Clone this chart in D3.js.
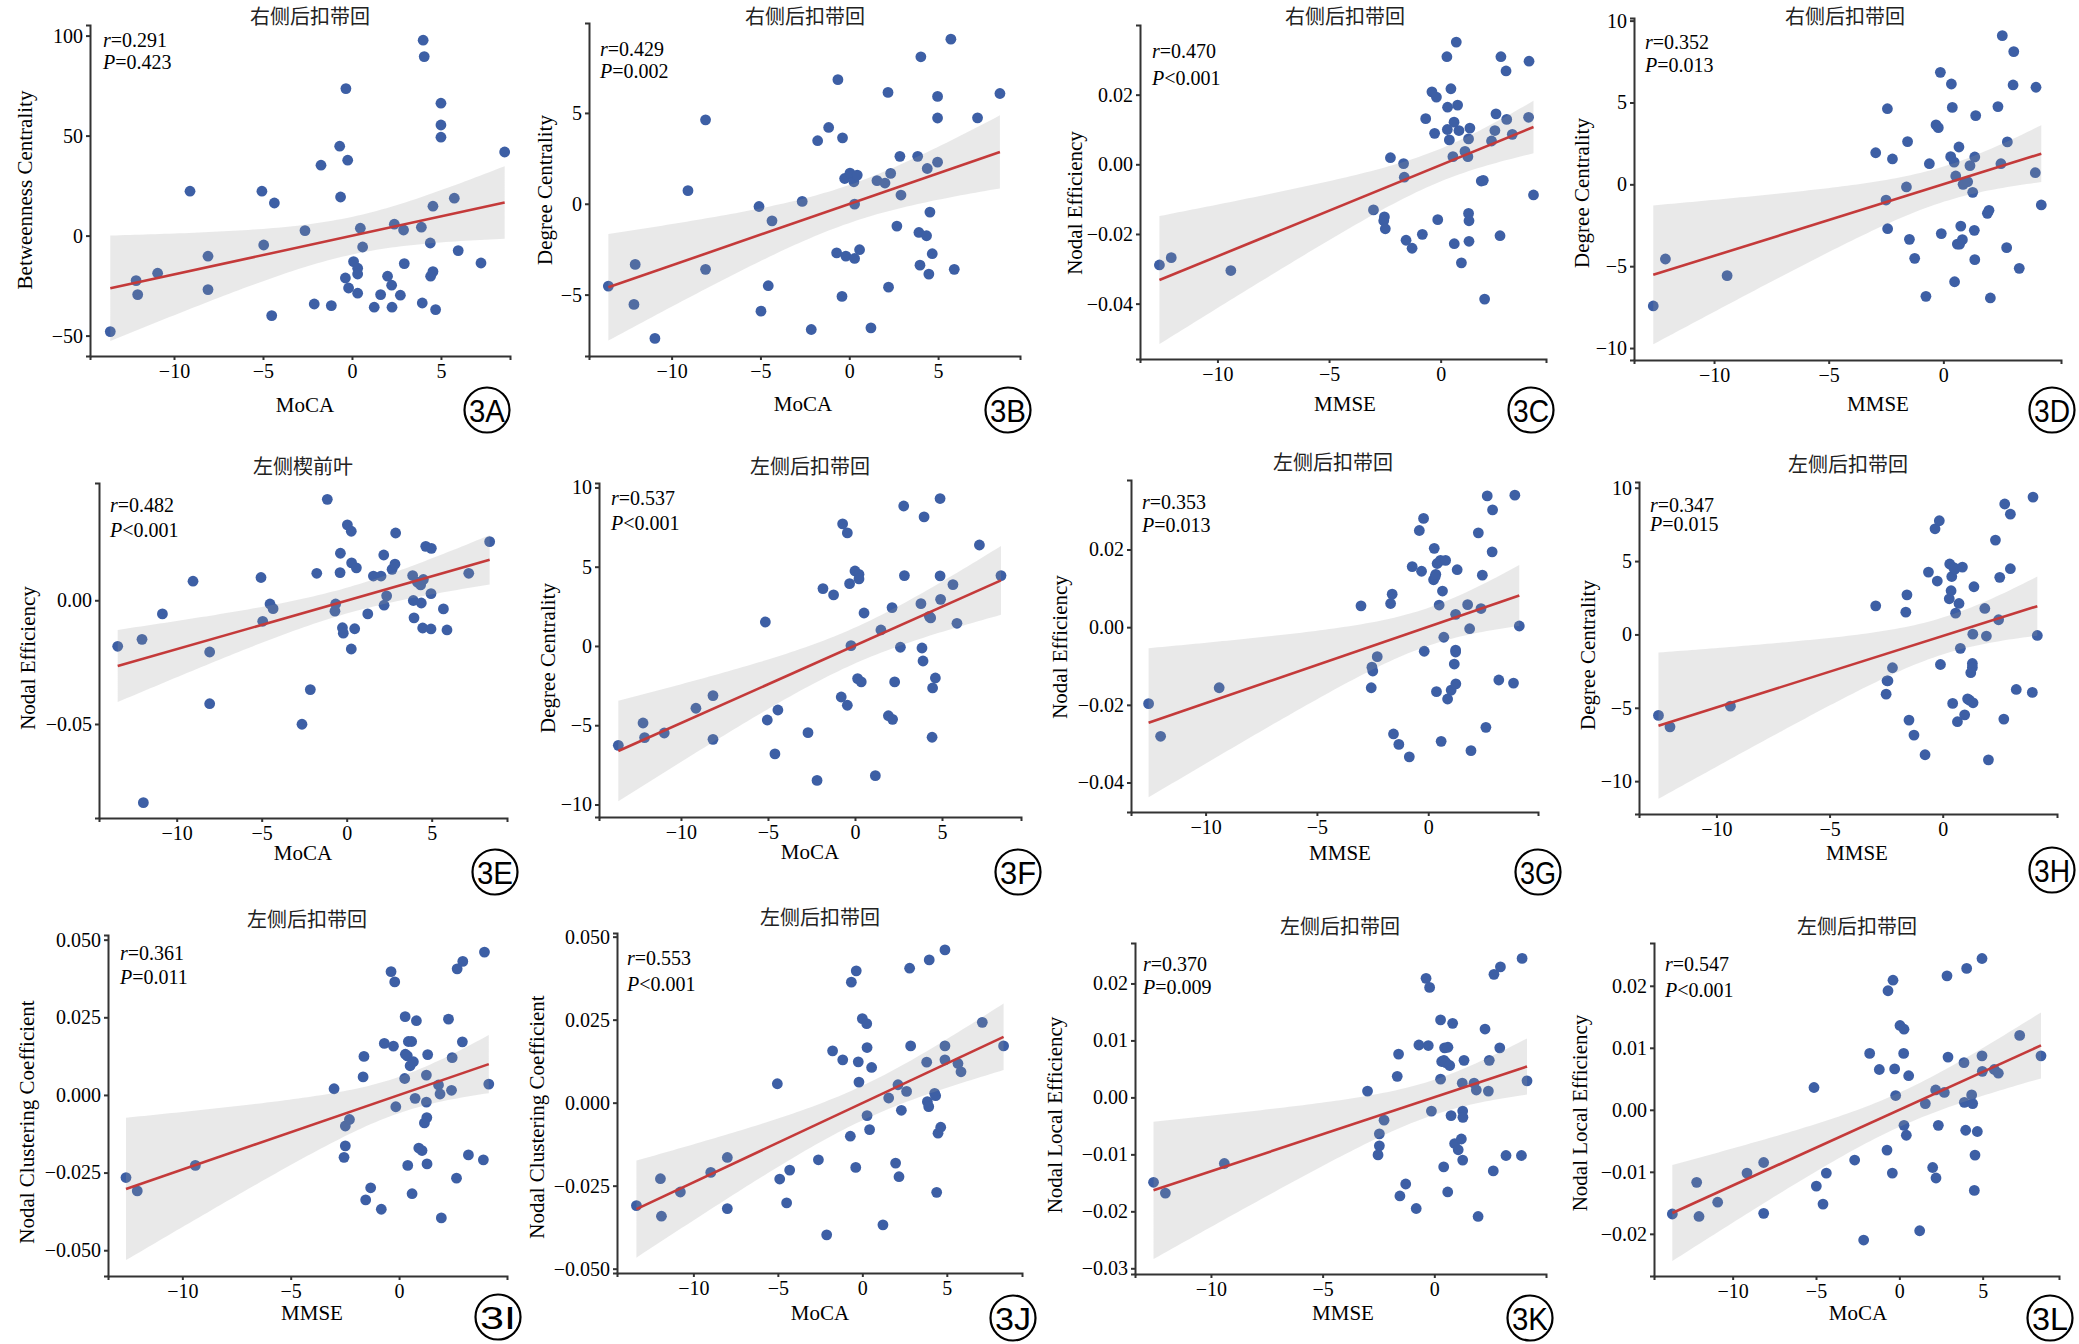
<!DOCTYPE html>
<html>
<head>
<meta charset="utf-8">
<script src="https://cdn.jsdelivr.net/npm/d3@7"></script>
<style>
  body { margin: 0; background: #fff; }
  .axis path, .axis line { stroke: #333; stroke-width: 2; }
  .axis text { font-family: "Liberation Serif", serif; font-size: 20px; fill: #000; }
</style>
</head>
<body>
<svg width="2079" height="1344"></svg>
<script>
// ---- labels ----
var ids = ["3A", "3B", "3C", "3D", "3E", "3F", "3G", "3H", "3I", "3J", "3K", "3L"];
var titles = ["右侧后扣带回", "右侧后扣带回", "右侧后扣带回", "右侧后扣带回",
              "左侧楔前叶", "左侧后扣带回", "左侧后扣带回", "左侧后扣带回",
              "左侧后扣带回", "左侧后扣带回", "左侧后扣带回", "左侧后扣带回"];
var xLabels = ["MoCA", "MoCA", "MMSE", "MMSE", "MoCA", "MoCA", "MMSE", "MMSE",
               "MMSE", "MoCA", "MMSE", "MoCA"];
var yLabels = ["Betweenness Centrality", "Degree Centrality", "Nodal Efficiency", "Degree Centrality",
               "Nodal Efficiency", "Degree Centrality", "Nodal Efficiency", "Degree Centrality",
               "Nodal Clustering Coefficient", "Nodal Clustering Coefficient",
               "Nodal Local Efficiency", "Nodal Local Efficiency"];
var rValues = ["=0.291", "=0.429", "=0.470", "=0.352", "=0.482", "=0.537",
               "=0.353", "=0.347", "=0.361", "=0.553", "=0.370", "=0.547"];
var pValues = ["=0.423", "=0.002", "<0.001", "=0.013", "<0.001", "<0.001",
               "=0.013", "=0.015", "=0.011", "<0.001", "=0.009", "<0.001"];

// ---- ticks ----
var xTicks = [[-10, -5, 0, 5], [-10, -5, 0, 5], [-10, -5, 0], [-10, -5, 0],
              [-10, -5, 0, 5], [-10, -5, 0, 5], [-10, -5, 0], [-10, -5, 0],
              [-10, -5, 0], [-10, -5, 0, 5], [-10, -5, 0], [-10, -5, 0, 5]];
var yTicks = [[-50, 0, 50, 100], [-5, 0, 5], [-0.04, -0.02, 0, 0.02], [-10, -5, 0, 5, 10],
              [-0.05, 0], [-10, -5, 0, 5, 10], [-0.04, -0.02, 0, 0.02], [-10, -5, 0, 5, 10],
              [-0.05, -0.025, 0, 0.025, 0.05], [-0.05, -0.025, 0, 0.025, 0.05],
              [-0.03, -0.02, -0.01, 0, 0.01, 0.02], [-0.02, -0.01, 0, 0.01, 0.02]];
var yFormats = ["d", "d", ".2f", "d", ".2f", "d", ".2f", "d", ".3f", ".3f", ".2f", ".2f"];

// ---- points (x, y) ----
var ptsA = [[-13.58,-48],[-12.13,-22.5],[-12.04,-29.5],[-10.92,-18.8],[-9.1,22.2],[-8.09,-10.3],[-8.09,-27],[-5.06,22.2],[-4.96,-4.7],[-4.36,16.3],[-4.51,-40],[-2.64,2.5],[-2.12,-34.2],[-1.74,35.2],[-1.16,-35],[-0.69,44.7],[-0.64,19.3],[-0.34,73.5],[-0.24,37.7],[-0.37,-21.2],[-0.19,-26.2],[0.09,-13],[0.32,-16.3],[0.32,-19.2],[0.32,-28.8],[0.47,3.7],[0.6,-5.7],[1.25,-35.8],[1.61,-29.5],[2.0,-20.3],[2.23,-24.8],[2.25,-35.8],[2.38,5.7],[2.72,-29.8],[2.9,2.8],[2.94,-14],[3.9,4.2],[3.95,-33.7],[4.0,97.7],[4.06,89.5],[4.4,-3.7],[4.42,-20.3],[4.55,-18],[4.55,14.7],[4.7,-37],[5.0,66.2],[5.0,55.3],[5.0,49.2],[5.75,18.7],[5.97,-7.5],[7.25,-13.7],[8.58,41.8]];
var ptsB = [[-13.56,-4.53],[-12.05,-3.34],[-12.12,-5.54],[-10.94,-7.41],[-9.08,0.72],[-8.09,4.62],[-8.09,-3.61],[-5.08,-0.15],[-4.97,-5.91],[-4.56,-4.51],[-4.35,-0.94],[-2.65,0.13],[-2.14,-6.92],[-1.78,3.47],[-1.16,4.2],[-0.71,-2.7],[-0.64,6.83],[-0.41,-5.1],[-0.38,3.63],[-0.26,1.39],[-0.19,-2.88],[0.04,1.69],[0.26,1.21],[0.3,-0.02],[0.3,-3.01],[0.45,1.58],[0.58,-2.53],[1.22,-6.83],[1.56,1.27],[2.01,1.14],[2.18,6.13],[2.21,-4.59],[2.33,1.67],[2.68,-1.23],[2.85,2.61],[2.91,0.48],[3.85,2.61],[3.92,-1.58],[3.98,-3.38],[4.03,8.09],[4.35,-1.76],[4.39,1.94],[4.48,-3.87],[4.54,-0.46],[4.67,-2.75],[4.97,2.29],[4.97,5.91],[4.97,4.72],[5.72,9.06],[5.91,-3.61],[7.22,4.73],[8.48,6.07]];
var ptsC = [[-12.6,-0.0289],[-12.07,-0.0268],[-9.4,-0.0305],[-3.01,-0.0131],[-2.52,-0.0151],[-2.55,-0.0162],[-2.48,-0.0185],[-2.25,0.0019],[-1.66,0.0002],[-1.63,-0.0037],[-1.55,-0.0218],[-1.28,-0.0241],[-0.82,-0.0201],[-0.67,0.0131],[-0.39,0.0208],[-0.19,0.0193],[-0.27,0.0089],[-0.13,-0.0159],[0.28,0.0309],[0.31,0.0164],[0.3,0.01],[0.39,0.007],[0.46,0.0217],[0.55,0.0022],[0.6,0.0121],[0.61,-0.0228],[0.7,0.0351],[0.76,0.017],[0.82,0.0097],[0.93,-0.0283],[1.09,0.0037],[1.22,0.0022],[1.25,0.0073],[1.25,-0.0141],[1.27,-0.0162],[1.27,-0.0221],[1.31,0.0104],[1.82,-0.0048],[1.91,-0.0046],[1.97,-0.0387],[2.28,0.0067],[2.43,0.0097],[2.48,0.0145],[2.66,-0.0205],[2.7,0.0309],[2.93,0.0268],[2.96,0.0129],[3.21,0.0086],[3.94,0.0135],[3.96,0.0296],[4.16,-0.0088]];
var ptsD = [[-12.65,-7.43],[-12.12,-4.56],[-9.43,-5.58],[-2.95,1.93],[-2.44,4.62],[-2.5,-0.96],[-2.43,-2.71],[-2.22,1.55],[-1.61,-0.16],[-1.56,2.61],[-1.48,-3.36],[-1.25,-4.52],[-0.76,-6.84],[-0.61,1.26],[-0.32,3.63],[-0.22,3.46],[-0.13,6.84],[-0.09,-3.01],[0.32,1.69],[0.35,6.13],[0.39,4.7],[0.47,1.36],[0.49,-5.95],[0.54,0.51],[0.61,-3.65],[0.68,2.28],[0.71,-3.65],[0.76,-2.55],[0.83,-3.38],[0.86,0],[0.94,0.1],[1.06,0.16],[1.16,1.14],[1.28,-0.49],[1.35,-2.81],[1.37,1.67],[1.41,4.2],[1.37,-4.6],[1.92,-1.77],[1.99,-1.59],[2.05,-6.94],[2.38,4.75],[2.51,1.26],[2.57,9.08],[2.76,-3.87],[2.79,2.59],[3.04,6.07],[3.07,8.11],[3.31,-5.13],[4.01,0.71],[4.04,5.93],[4.27,-1.26]];
var ptsE = [[-13.47,-0.0186],[-12.04,-0.0158],[-11.96,-0.0818],[-10.84,-0.0055],[-9.04,0.0077],[-8.06,-0.0209],[-8.06,-0.0418],[-5.04,0.0092],[-4.94,-0.0085],[-4.51,-0.0015],[-4.33,-0.0034],[-2.63,-0.0501],[-2.14,-0.0361],[-1.76,0.0109],[-1.14,0.0408],[-0.69,-0.0044],[-0.65,-0.0015],[-0.39,0.0112],[-0.37,0.019],[-0.25,-0.0111],[-0.2,-0.0133],[0.04,0.0305],[0.27,0.0279],[0.27,-0.0197],[0.29,0.0151],[0.47,-0.0115],[0.57,0.0131],[1.24,-0.0055],[1.57,0.0098],[2.02,0.0098],[2.18,0.0183],[2.2,-0.002],[2.35,0.0018],[2.67,0.0125],[2.84,0.0146],[2.88,0.0272],[3.88,0.01],[3.92,-0.0001],[3.96,-0.0071],[4.16,0.0073],[4.35,0.0062],[4.39,-0.0011],[4.47,-0.0112],[4.51,0.0084],[4.65,0.0218],[4.96,-0.0116],[4.98,0.021],[4.96,0.0027],[5.69,-0.0035],[5.9,-0.012],[7.18,0.0109],[8.41,0.0237]];
var ptsF = [[-13.6,-6.27],[-12.18,-4.86],[-12.09,-5.78],[-10.96,-5.49],[-9.14,-3.93],[-8.16,-3.13],[-8.16,-5.89],[-5.15,1.51],[-5.04,-4.67],[-4.6,-6.81],[-4.43,-4.04],[-2.7,-5.47],[-2.18,-8.48],[-1.84,3.62],[-1.23,3.22],[-0.79,-3.22],[-0.71,7.7],[-0.44,7.13],[-0.44,-3.74],[-0.31,3.93],[-0.23,0.02],[0,4.73],[0.15,-2.06],[0.23,4.52],[0.23,4.23],[0.36,-2.27],[0.52,2.08],[1.17,-8.18],[1.49,1.01],[1.92,-4.4],[2.13,2.42],[2.16,-4.63],[2.28,-2.27],[2.61,-0.08],[2.8,8.83],[2.84,4.44],[3.79,2.67],[3.85,-0.13],[3.91,-0.95],[3.97,8.14],[4.27,1.87],[4.35,1.77],[4.43,-5.76],[4.46,-2.65],[4.62,-2.02],[4.89,9.3],[4.89,4.42],[4.92,2.94],[5.63,3.87],[5.86,1.43],[7.15,6.37],[8.39,4.44]];
var ptsG = [[-12.56,-0.0197],[-12.02,-0.0281],[-9.39,-0.0156],[-3.02,0.0055],[-2.53,-0.0103],[-2.49,-0.0113],[-2.56,-0.0156],[-2.29,-0.0076],[-1.69,0.0061],[-1.62,0.0085],[-1.56,-0.0275],[-1.32,-0.0302],[-0.85,-0.0334],[-0.72,0.0156],[-0.4,0.0249],[-0.3,0.0144],[-0.21,0.028],[-0.18,-0.0062],[0.24,0.0122],[0.27,0.0203],[0.31,0.013],[0.34,0.0136],[0.37,-0.0166],[0.4,0.0164],[0.49,0.0057],[0.55,0.0172],[0.58,-0.0294],[0.64,0.0093],[0.7,-0.0026],[0.78,0.0172],[0.87,-0.0185],[1.03,-0.0162],[1.17,-0.0095],[1.23,0.0033],[1.23,-0.0059],[1.23,-0.0064],[1.24,-0.0146],[1.3,0.0148],[1.77,0.0058],[1.86,-0.0004],[1.92,-0.0318],[2.25,0.0243],[2.37,0.0048],[2.43,0.0134],[2.59,-0.0258],[2.65,0.0338],[2.87,0.0194],[2.89,0.0302],[3.17,-0.0136],[3.83,-0.0144],[3.89,0.034],[4.09,0.0003]];
var ptsH = [[-12.56,-5.52],[-12.05,-6.3],[-9.38,-4.89],[-2.96,1.95],[-2.5,-4.07],[-2.46,-3.16],[-2.42,-3.16],[-2.22,-2.27],[-1.63,1.52],[-1.58,2.7],[-1.49,-5.84],[-1.27,-6.86],[-0.78,-8.2],[-0.63,4.25],[-0.34,7.2],[-0.24,3.64],[-0.15,7.75],[-0.1,-2.05],[0.29,2.43],[0.31,4.8],[0.37,2.98],[0.4,3.95],[0.44,-4.7],[0.49,4.55],[0.54,4.45],[0.57,1.45],[0.65,-5.95],[0.72,2.11],[0.78,-0.95],[0.87,4.59],[0.97,-5.48],[1.1,-4.39],[1.18,-4.48],[1.24,-2.61],[1.31,-1.98],[1.31,-2.25],[1.33,0.02],[1.34,-4.66],[1.38,3.25],[1.86,1.77],[1.93,-0.11],[2.02,-8.55],[2.33,6.43],[2.47,1],[2.52,3.89],[2.7,-5.77],[2.74,8.89],[2.99,8.2],[2.99,4.48],[3.25,-3.75],[3.96,-3.95],[3.99,9.36],[4.18,-0.07]];
var ptsI = [[-12.6,-0.0266],[-12.08,-0.0309],[-9.4,-0.0227],[-3,0.002],[-2.48,-0.01],[-2.29,-0.0079],[-2.48,-0.0164],[-2.54,-0.0201],[-1.66,0.0058],[-1.62,0.0124],[-1.54,-0.0338],[-1.31,-0.0299],[-0.82,-0.0368],[-0.68,0.0166],[-0.37,0.0397],[-0.26,0.0157],[-0.2,0.0364],[-0.15,-0.0038],[0.26,0.0053],[0.28,0.0252],[0.29,0.0131],[0.38,0.0126],[0.4,-0.0227],[0.43,0.0172],[0.51,0.0094],[0.6,-0.0318],[0.58,0.0172],[0.66,0.0107],[0.74,-0.0011],[0.8,0.0239],[0.91,-0.0171],[1.06,-0.0179],[1.17,-0.009],[1.26,0.0064],[1.26,-0.0023],[1.28,-0.0073],[1.29,-0.0222],[1.32,0.013],[1.82,0.0032],[1.89,0.0003],[1.95,-0.0396],[2.28,0.0244],[2.42,0.0015],[2.45,0.012],[2.65,-0.0268],[2.68,0.0406],[2.92,0.0171],[2.94,0.043],[3.2,-0.0193],[3.89,-0.0209],[3.94,0.046],[4.14,0.0035]];
var ptsJ = [[-13.37,-0.031],[-11.95,-0.0229],[-11.89,-0.0342],[-10.77,-0.0269],[-8.97,-0.021],[-7.99,-0.0165],[-7.99,-0.0319],[-5.03,0.0057],[-4.89,-0.023],[-4.48,-0.0302],[-4.3,-0.0203],[-2.6,-0.0172],[-2.11,-0.0398],[-1.76,0.0156],[-1.16,0.0129],[-0.71,-0.0101],[-0.65,0.0363],[-0.39,-0.0195],[-0.36,0.0397],[-0.24,0.0123],[-0.2,0.0062],[0,0.0253],[0.26,0.0238],[0.28,0.0166],[0.28,-0.0039],[0.43,-0.0081],[0.55,0.0106],[1.22,-0.0368],[1.56,0.0014],[1.97,-0.0182],[2.11,0.0054],[2.17,-0.0223],[2.31,-0.0023],[2.62,0.0034],[2.8,0.0405],[2.86,0.0171],[3.81,0.0122],[3.85,0.0003],[3.93,-0.0012],[3.96,0.043],[4.28,0.0028],[4.34,0.0021],[4.4,-0.027],[4.48,-0.0092],[4.64,-0.0074],[4.89,0.046],[4.89,0.0171],[4.89,0.0129],[5.66,0.0118],[5.84,0.0093],[7.1,0.0242],[8.36,0.0171]];
var ptsK = [[-12.57,-0.0149],[-12.04,-0.0168],[-9.4,-0.0116],[-2.99,0.0011],[-2.46,-0.0064],[-2.46,-0.0085],[-2.52,-0.0101],[-2.25,-0.004],[-1.66,0.0037],[-1.6,0.0076],[-1.54,-0.0173],[-1.28,-0.0152],[-0.81,-0.0195],[-0.69,0.0092],[-0.37,0.0209],[-0.27,0.0091],[-0.21,0.0193],[-0.13,-0.0024],[0.28,0.0032],[0.28,0.0136],[0.33,0.0063],[0.43,0.0065],[0.42,-0.0122],[0.46,0.0087],[0.52,0.0061],[0.6,-0.0166],[0.61,0.0088],[0.69,0.0056],[0.75,-0.0032],[0.82,0.013],[0.91,-0.0081],[1.07,-0.0092],[1.21,-0.0073],[1.25,0.0025],[1.27,-0.0024],[1.28,-0.0035],[1.27,-0.011],[1.33,0.0065],[1.78,0.0025],[1.88,0.0013],[1.96,-0.0209],[2.27,0.012],[2.42,0.0011],[2.46,0.0065],[2.64,-0.0129],[2.67,0.0216],[2.93,0.0087],[2.96,0.0229],[3.21,-0.0102],[3.9,-0.0102],[3.93,0.0244],[4.15,0.0029]];
var ptsL = [[-13.62,-0.0168],[-12.16,-0.0117],[-12.02,-0.0172],[-10.9,-0.0149],[-9.14,-0.0102],[-8.14,-0.0085],[-8.14,-0.0167],[-5.12,0.0036],[-4.98,-0.0123],[-4.58,-0.0152],[-4.38,-0.0102],[-2.68,-0.0081],[-2.14,-0.021],[-1.78,0.0091],[-1.2,0.0065],[-0.74,-0.0065],[-0.68,0.0192],[-0.42,-0.0102],[-0.38,0.0209],[-0.28,0.0066],[-0.22,0.0023],[0.04,0.0136],[0.28,0.013],[0.26,0.0091],[0.28,-0.0025],[0.42,-0.0041],[0.56,0.0055],[1.22,-0.0195],[1.56,0.001],[2,-0.0093],[2.18,0.0032],[2.2,-0.011],[2.34,-0.0025],[2.7,0.0028],[2.86,0.0216],[2.92,0.0085],[3.88,0.0076],[3.9,0.0012],[3.98,-0.0033],[4.04,0.0228],[4.34,0.0024],[4.4,0.001],[4.5,-0.013],[4.54,-0.0073],[4.68,-0.0035],[4.96,0.0244],[4.96,0.0087],[4.98,0.0062],[5.7,0.0065],[5.94,0.0059],[7.22,0.012],[8.5,0.0087]];
var points = [ptsA, ptsB, ptsC, ptsD, ptsE, ptsF, ptsG, ptsH, ptsI, ptsJ, ptsK, ptsL];

// ---- panel layout (pixel boxes and axis extents) ----
var panels = [
  {l: 90,   t: 25,  r: 510,  b: 356,  xd: [-14.72, 8.88], yd: [-60.2, 105.3], ti: [310, 17],   st: [103, 40, 62],    id: [487, 410],   xl: [305, 405],   yl: [25, 190]},
  {l: 589,  t: 23,  r: 1020, b: 356,  xd: [-14.65, 9.61], yd: [-8.38, 9.95],  ti: [805, 17],   st: [600, 49, 71],    id: [1008, 410],  xl: [803, 404],   yl: [545, 190]},
  {l: 1140, t: 25,  r: 1546, b: 359,  xd: [-13.47, 4.72], yd: [-0.0559, 0.04], ti: [1345, 17], st: [1152, 51, 78],   id: [1531, 410],  xl: [1345, 404],  yl: [1075, 203]},
  {l: 1634, t: 18,  r: 2061, b: 360,  xd: [-13.49, 5.13], yd: [-10.73, 10.16], ti: [1845, 17], st: [1645, 42, 65],   id: [2052, 410],  xl: [1878, 404],  yl: [1582, 193]},
  {l: 99,   t: 483, r: 507,  b: 818,  xd: [-14.57, 9.43], yd: [-0.088, 0.0474], ti: [303, 467], st: [110, 505, 530],  id: [495, 872],   xl: [303, 853],   yl: [28, 658]},
  {l: 599,  t: 483, r: 1021, b: 817,  xd: [-14.71, 9.54], yd: [-10.79, 10.28], ti: [810, 467],  st: [611, 498, 523],  id: [1018, 872],  xl: [810, 852],   yl: [548, 658]},
  {l: 1131, t: 480, r: 1538, b: 812,  xd: [-13.35, 4.93], yd: [-0.0476, 0.0379], ti: [1333, 463], st: [1142, 502, 525], id: [1538, 872], xl: [1340, 853],  yl: [1060, 647]},
  {l: 1639, t: 482, r: 2057, b: 814,  xd: [-13.42, 5.05], yd: [-12.24, 10.39], ti: [1848, 465], st: [1650, 505, 524], id: [2052, 870],  xl: [1857, 853],  yl: [1588, 655]},
  {l: 108,  t: 935, r: 507,  b: 1276, xd: [-13.43, 4.98], yd: [-0.0583, 0.0515], ti: [307, 920], st: [120, 953, 977],  id: [498, 1317],  xl: [312, 1313],  yl: [27, 1122]},
  {l: 617,  t: 933, r: 1022, b: 1273, xd: [-14.52, 9.45], yd: [-0.0513, 0.0511], ti: [820, 918], st: [627, 958, 984],  id: [1013, 1318], xl: [820, 1313],  yl: [537, 1117]},
  {l: 1135, t: 943, r: 1546, b: 1274, xd: [-13.40, 5.0],  yd: [-0.031, 0.0271], ti: [1340, 927], st: [1143, 964, 987], id: [1530, 1318], xl: [1343, 1313], yl: [1055, 1115]},
  {l: 1654, t: 943, r: 2059, b: 1276, xd: [-14.72, 9.58], yd: [-0.0268, 0.0269], ti: [1857, 927], st: [1665, 964, 990], id: [2050, 1318], xl: [1858, 1313], yl: [1580, 1113]}
];

var tCrit = 2.01; // t(0.975, df ~ 50)

function fit(pts) {
  var n = pts.length,
      mx = d3.mean(pts, function(d) { return d[0]; }),
      my = d3.mean(pts, function(d) { return d[1]; }),
      sxx = d3.sum(pts, function(d) { return (d[0] - mx) * (d[0] - mx); }),
      sxy = d3.sum(pts, function(d) { return (d[0] - mx) * (d[1] - my); }),
      b = sxy / sxx,
      a = my - b * mx,
      sse = d3.sum(pts, function(d) { var e = d[1] - a - b * d[0]; return e * e; }),
      s = Math.sqrt(sse / (n - 2));
  return {
    y: function(x) { return a + b * x; },
    se: function(x) { return s * Math.sqrt(1 / n + (x - mx) * (x - mx) / sxx); }
  };
}

var svg = d3.select("svg");

panels.forEach(function(p, i) {
  var pts = points[i];
  var x = d3.scaleLinear().domain(p.xd).range([p.l, p.r]),
      y = d3.scaleLinear().domain(p.yd).range([p.b, p.t]);

  var g = svg.append("g").attr("class", "panel");

  // title
  g.append("text")
      .attr("x", p.ti[0]).attr("y", p.ti[1])
      .attr("text-anchor", "middle").attr("dy", "0.35em")
      .style("font", "20px 'Noto Sans CJK SC'").style("fill", "#222")
      .text(titles[i]);

  // points
  g.append("g").selectAll("circle")
    .data(pts)
    .enter().append("circle")
      .attr("cx", function(d) { return x(d[0]); })
      .attr("cy", function(d) { return y(d[1]); })
      .attr("r", 5.4)
      .style("fill", "#3d5fa5");

  // regression + 95% band
  var m = fit(pts),
      ext = d3.extent(pts, function(d) { return d[0]; }),
      xs = d3.range(81).map(function(k) { return ext[0] + (ext[1] - ext[0]) * k / 80; });

  var band = d3.area()
      .x(function(v) { return x(v); })
      .y0(function(v) { return y(m.y(v) - tCrit * m.se(v)); })
      .y1(function(v) { return y(m.y(v) + tCrit * m.se(v)); });

  g.append("path")
      .datum(xs)
      .attr("d", band)
      .style("fill", "#999").style("fill-opacity", 0.22);

  g.append("path")
      .datum(ext)
      .attr("d", d3.line().x(function(v) { return x(v); }).y(function(v) { return y(m.y(v)); }))
      .style("fill", "none").style("stroke", "#c43a3a").style("stroke-width", 2.6);

  // axes
  g.append("g")
      .attr("class", "axis")
      .attr("transform", "translate(0," + p.b + ")")
      .call(d3.axisBottom(x).tickValues(xTicks[i]).tickFormat(d3.format("d")).tickSizeOuter(0).tickSize(4).tickPadding(4));

  g.append("g")
      .attr("class", "axis")
      .attr("transform", "translate(" + p.l + ",0)")
      .call(d3.axisLeft(y).tickValues(yTicks[i]).tickFormat(d3.format(yFormats[i])).tickSizeOuter(0).tickSize(4).tickPadding(3));

  // axis titles
  g.append("text")
      .attr("x", p.xl[0]).attr("y", p.xl[1])
      .attr("text-anchor", "middle").attr("dy", "0.35em")
      .style("font", "21px 'Liberation Serif'")
      .text(xLabels[i]);

  g.append("text")
      .attr("transform", "translate(" + p.yl[0] + "," + p.yl[1] + ") rotate(-90)")
      .attr("text-anchor", "middle").attr("dy", "0.35em")
      .style("font", "21px 'Liberation Serif'")
      .text(yLabels[i]);

  // r and P
  var rt = g.append("text")
      .attr("x", p.st[0]).attr("y", p.st[1]).attr("dy", "0.35em")
      .style("font", "20px 'Liberation Serif'");
  rt.append("tspan").style("font-style", "italic").text("r");
  rt.append("tspan").text(rValues[i]);

  var pt = g.append("text")
      .attr("x", p.st[0]).attr("y", p.st[2]).attr("dy", "0.35em")
      .style("font", "20px 'Liberation Serif'");
  pt.append("tspan").style("font-style", "italic").text("P");
  pt.append("tspan").text(pValues[i]);

  // panel tag
  g.append("circle")
      .attr("cx", p.id[0]).attr("cy", p.id[1]).attr("r", 22.5)
      .style("fill", "none").style("stroke", "#000").style("stroke-width", 2.2);

  g.append("text")
      .attr("x", p.id[0]).attr("y", p.id[1])
      .attr("text-anchor", "middle").attr("dy", "0.36em")
      .attr("textLength", 36).attr("lengthAdjust", "spacingAndGlyphs")
      .style("font", "32px 'Liberation Sans'")
      .text(ids[i]);
});
</script>
</body>
</html>
